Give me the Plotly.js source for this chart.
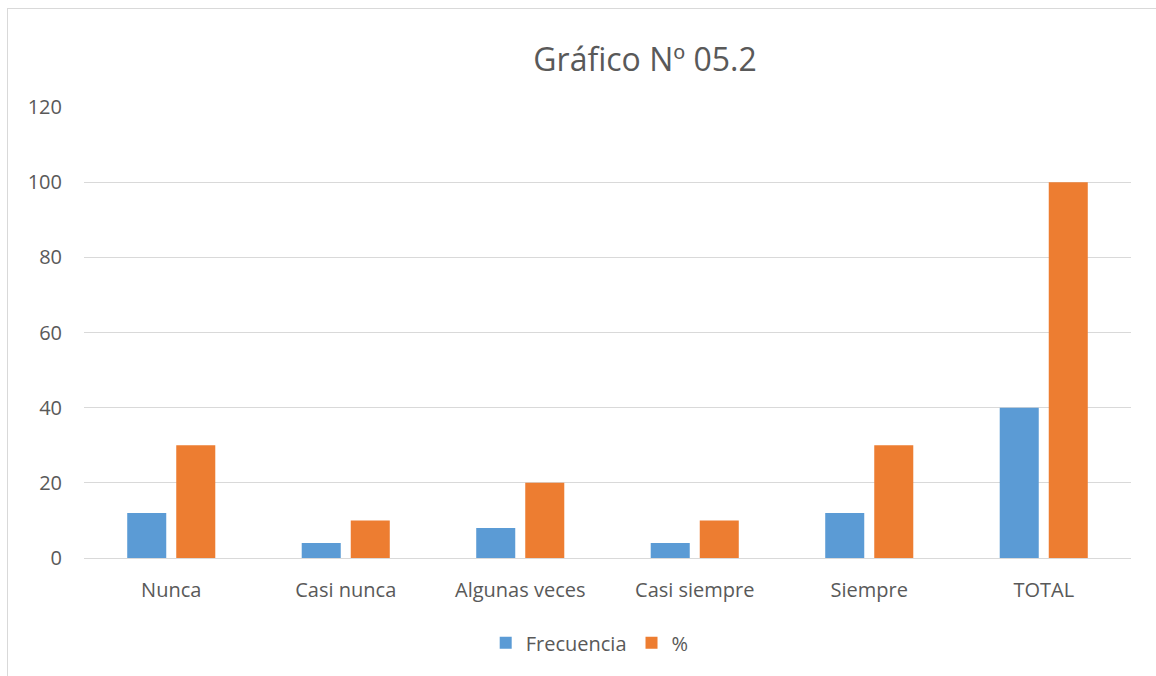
<!DOCTYPE html>
<html>
<head>
<meta charset="utf-8">
<script src="https://cdn.plot.ly/plotly-3.0.1.min.js"></script>
<style>
  html, body { margin: 0; padding: 0; background: #fff; }
  #wrap { position: relative; width: 1156px; height: 676px; overflow: hidden; }
  #chart { width: 1156px; height: 676px; }
  #frame { position: absolute; left: 7px; top: 8px; width: 1200px; height: 720px;
           border-left: 1px solid #d9d9d9; border-top: 1px solid #d9d9d9; pointer-events: none; }
</style>
</head>
<body>
<div id="wrap">
  <div id="chart"></div>
  <div id="frame"></div>
</div>
<script>
const categories = ["Nunca", "Casi nunca", "Algunas veces", "Casi siempre", "Siempre", "TOTAL"];
const frecuencia = [12, 4, 8, 4, 12, 40];
const porcentaje = [30, 10, 20, 10, 30, 100];
const yTicks = [0, 20, 40, 60, 80, 100, 120];

const fontFam = "Open Sans, Noto Sans, sans-serif";
const textColor = "#595959";

const traces = [
  { type: "bar", name: "Frecuencia", x: categories, y: frecuencia,
    marker: { color: "#5b9bd5" }, hoverinfo: "x+y" },
  { type: "bar", name: "%", x: categories, y: porcentaje,
    marker: { color: "#ed7d31" }, hoverinfo: "x+y" }
];

const layout = {
  width: 1156, height: 676,
  margin: { l: 84, r: 25, t: 107, b: 118 },
  paper_bgcolor: "#ffffff", plot_bgcolor: "#ffffff",
  font: { family: fontFam, color: textColor, size: 20 },
  title: { text: "Gráfico Nº 05.2", x: 0.558, xanchor: "center", y: 0.912, yanchor: "middle",
           font: { family: fontFam, size: 32, color: textColor } },
  barmode: "group",
  bargap: 0.438,
  bargroupgap: 0.204,
  xaxis: { type: "category", showgrid: false, showline: true, linecolor: "#d9d9d9", linewidth: 1,
           ticks: "", ticklabelstandoff: 14, tickfont: { size: 20, color: textColor } },
  yaxis: { range: [0, 120], tickvals: yTicks, showgrid: true, gridcolor: "#d9d9d9", gridwidth: 1,
           zeroline: false, showline: false, ticks: "", ticklabelstandoff: 21,
           tickfont: { size: 20, color: textColor } },
  showlegend: true,
  legend: { orientation: "h", x: 0.483, xanchor: "center", y: -0.188, yanchor: "middle",
            font: { size: 20, color: textColor }, itemwidth: 30 }
};

Plotly.newPlot("chart", traces, layout, { displayModeBar: false, staticPlot: true });
</script>
</body>
</html>
